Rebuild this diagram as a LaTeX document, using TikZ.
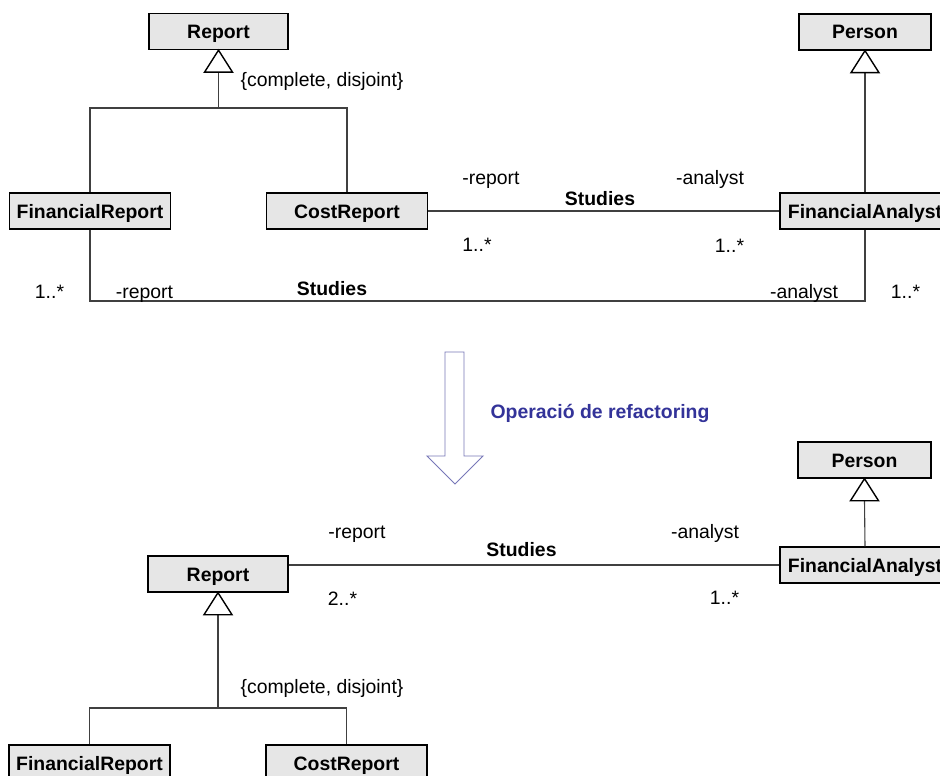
\documentclass[tikz,border=0pt]{standalone}
\usepackage{fontspec}
\setmainfont{Liberation Sans}
\usetikzlibrary{calc}
\definecolor{boxgray}{HTML}{E6E6E6}
\definecolor{wire}{HTML}{404040}
\definecolor{refblue}{HTML}{333399}
\definecolor{arrowblue}{HTML}{7777B8}
\begin{document}
\begin{tikzpicture}[x=1pt,y=-1pt,
  cls/.style={draw=black, line width=1.4pt, fill=boxgray, minimum height=36pt,
    inner sep=0pt, text height=14pt, text depth=0pt,
    font=\fontsize{19.4}{23}\selectfont\bfseries},
  lbl/.style={inner sep=0pt, text height=14pt, text depth=0pt,
    font=\fontsize{19.4}{23}\selectfont},
  assoc/.style={lbl, font=\fontsize{19.4}{23}\selectfont\bfseries},
  wireline/.style={draw=wire, line width=1.1pt},
  gentri/.style={draw=black, line width=1.4pt, fill=white, line join=miter}
]
\clip (0,0) rectangle (940,776);
\fill[white] (0,0) rectangle (940,776);

% ---------- original model ----------
\node[cls, minimum width=139pt] (rep) at (218.5,31.5) {Report};
\node[cls, minimum width=132pt] (per) at (865,32) {Person};
\node[cls, minimum width=161pt] (fr) at (90,211) {FinancialReport};
\node[cls, minimum width=161pt] (cr) at (347,211) {CostReport};
\node[cls, minimum width=170pt] (fa) at (865,211) {FinancialAnalyst};

% generalization Report <- FinancialReport, CostReport
\coordinate (repbase) at ($(rep.south)+(0,22)$);
\coordinate (hubA) at (218.5,108);
\draw[wireline] (repbase) -- (hubA);
\draw[wireline] (fr.north) |- (hubA) -| (cr.north);
\draw[gentri] (rep.south) -- ++(-14,22) -- ++(28,0) -- cycle;

% generalization Person <- FinancialAnalyst
\coordinate (perbase) at ($(per.south)+(0,22)$);
\draw[wireline] (perbase) -- (fa.north);
\draw[gentri] (per.south) -- ++(-14,22) -- ++(28,0) -- cycle;

% associations
\draw[wireline] (cr.east) -- (fa.west);
\coordinate (lowrun) at (0,301);
\draw[wireline] (fr.south) |- (lowrun -| fa.south) -- (fa.south);

\node[lbl] (c1) at (322,80) {\{complete, disjoint\}};
\node[lbl] (r1) at (491,177) {-report};
\node[assoc] (s1) at (600,198) {Studies};
\node[lbl] (a1) at (710,177) {-analyst};
\node[lbl] (m1) at (477,244) {1..*};
\node[lbl] (m2) at (729.5,245) {1..*};
\node[lbl] (m3) at (49.5,291) {1..*};
\node[lbl] (r2) at (144.5,291) {-report};
\node[assoc] (s2) at (332,288) {Studies};
\node[lbl] (a2) at (804,291) {-analyst};
\node[lbl] (m4) at (905.5,291) {1..*};

% ---------- refactoring arrow ----------
\draw[draw=arrowblue, line width=0.9pt, fill=white, line join=miter]
  (445,352) -- (464,352) -- (464,456) -- (483,456) -- (455,484)
  -- (427,456) -- (445,456) -- cycle;
\node[assoc, text=refblue] (op) at (600,411) {Operació de refactoring};

% ---------- refactored model ----------
\node[cls, minimum width=140pt] (rep2) at (218,574) {Report};
\node[cls, minimum width=133pt] (per2) at (864.5,460) {Person};
\node[cls, minimum width=161pt] (fr2) at (89.5,763) {FinancialReport};
\node[cls, minimum width=161pt] (cr2) at (346.5,763) {CostReport};
\node[cls, minimum width=170pt] (fa2) at (865,565) {FinancialAnalyst};

\coordinate (rep2base) at ($(rep2.south)+(0,22)$);
\coordinate (hubB) at (218,708);
\draw[wireline] (rep2base) -- (hubB);
\draw[wireline] (fr2.north) |- (hubB) -| (cr2.north);
\draw[gentri] (rep2.south) -- ++(-14,22) -- ++(28,0) -- cycle;

\coordinate (per2base) at ($(per2.south)+(0,22)$);
\draw[wireline] (per2base) -- (fa2.north);
\draw[gentri] (per2.south) -- ++(-14,22) -- ++(28,0) -- cycle;

\draw[wireline] (rep2.east |- fa2.west) -- (fa2.west);

\node[lbl] (r3) at (357,531) {-report};
\node[lbl] (m5) at (342.5,598) {2..*};
\node[assoc] (s3) at (521.5,549) {Studies};
\node[lbl] (a3) at (705,531) {-analyst};
\node[lbl] (m6) at (724.5,597) {1..*};
\node[lbl] (c2) at (322,686) {\{complete, disjoint\}};
\end{tikzpicture}
\end{document}
